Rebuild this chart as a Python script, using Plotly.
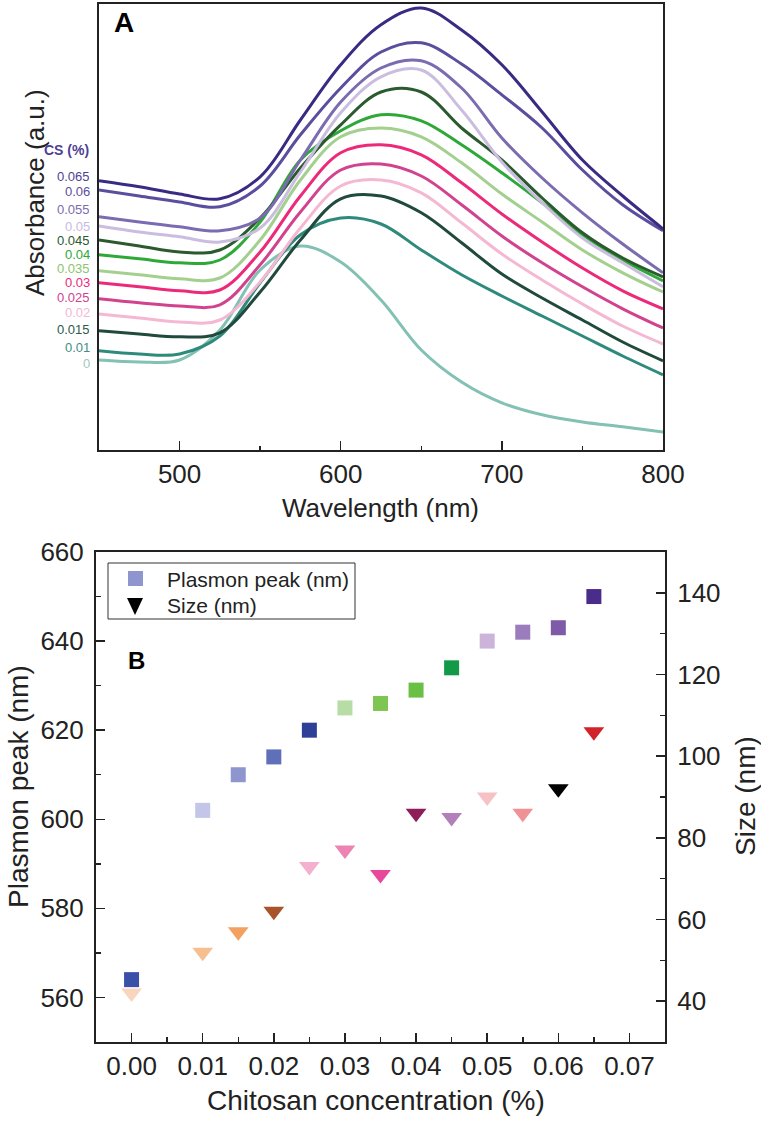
import plotly.graph_objects as go

# ---------------- Panel A data: UV-vis spectra ----------------
wavelength = [450, 475, 500, 525, 550, 575, 600, 625, 650, 675, 700, 725, 750, 775, 800]

cs_levels = ["0.065", "0.06", "0.055", "0.05", "0.045", "0.04", "0.035",
             "0.03", "0.025", "0.02", "0.015", "0.01", "0"]

abs_0065 = [0.673, 0.658, 0.640, 0.628, 0.683, 0.825, 0.963, 1.063, 1.105, 1.050, 0.963, 0.845, 0.725, 0.635, 0.553]
abs_0060 = [0.650, 0.635, 0.620, 0.608, 0.660, 0.788, 0.905, 0.995, 1.018, 0.965, 0.888, 0.805, 0.700, 0.613, 0.548]
abs_0055 = [0.583, 0.570, 0.558, 0.548, 0.580, 0.725, 0.870, 0.955, 0.973, 0.905, 0.780, 0.680, 0.593, 0.515, 0.443]
abs_0050 = [0.560, 0.545, 0.533, 0.520, 0.555, 0.695, 0.843, 0.933, 0.950, 0.850, 0.720, 0.618, 0.530, 0.468, 0.408]
abs_0045 = [0.525, 0.510, 0.495, 0.500, 0.580, 0.705, 0.813, 0.895, 0.895, 0.805, 0.725, 0.630, 0.543, 0.480, 0.433]
abs_0040 = [0.488, 0.478, 0.468, 0.475, 0.570, 0.725, 0.798, 0.838, 0.823, 0.763, 0.693, 0.618, 0.538, 0.475, 0.423]
abs_0035 = [0.448, 0.438, 0.428, 0.430, 0.525, 0.675, 0.783, 0.805, 0.783, 0.718, 0.640, 0.570, 0.500, 0.443, 0.395]
abs_0030 = [0.418, 0.408, 0.398, 0.400, 0.495, 0.635, 0.743, 0.763, 0.738, 0.668, 0.590, 0.520, 0.455, 0.398, 0.353]
abs_0025 = [0.378, 0.368, 0.360, 0.363, 0.463, 0.595, 0.700, 0.715, 0.685, 0.613, 0.535, 0.468, 0.408, 0.353, 0.305]
abs_0020 = [0.340, 0.330, 0.320, 0.325, 0.420, 0.555, 0.660, 0.675, 0.643, 0.568, 0.490, 0.425, 0.365, 0.310, 0.265]
abs_0015 = [0.298, 0.290, 0.283, 0.293, 0.395, 0.525, 0.628, 0.635, 0.593, 0.518, 0.440, 0.380, 0.325, 0.270, 0.223]
abs_0010 = [0.248, 0.240, 0.240, 0.285, 0.418, 0.538, 0.580, 0.565, 0.500, 0.438, 0.385, 0.335, 0.285, 0.235, 0.188]
abs_0000 = [0.225, 0.220, 0.225, 0.300, 0.450, 0.510, 0.470, 0.375, 0.250, 0.170, 0.118, 0.088, 0.070, 0.058, 0.045]

spectra = [abs_0065, abs_0060, abs_0055, abs_0050, abs_0045, abs_0040, abs_0035,
           abs_0030, abs_0025, abs_0020, abs_0015, abs_0010, abs_0000]

# ---------------- Panel B data ----------------
chitosan_conc = [0, 0.01, 0.015, 0.02, 0.025, 0.03, 0.035, 0.04, 0.045, 0.05, 0.055, 0.06, 0.065]
plasmon_peak = [564, 602, 610, 614, 620, 625, 626, 629, 634, 640, 642, 643, 650]
size_nm = [42, 52, 57, 62, 73, 77, 71, 86, 85, 90, 86, 92, 106]

legend_labels = ["Plasmon peak (nm)", "Size (nm)"]

# ---------------- styles ----------------
curve_colors = ["#3b2a84", "#5a4e9e", "#7b6bb0", "#cbbde0", "#2a5a2e", "#2ea836", "#a3d08e",
                "#ec2a79", "#d1428f", "#f5b8d3", "#204a3c", "#2e8a7c", "#82c1b3"]
label_colors = ["#4e3f95", "#5a4e9e", "#7b6bb0", "#c9bbdf", "#2a5a2e", "#2ea836", "#8cc46e",
                "#ec2a79", "#d1428f", "#f5b8d3", "#2c5a4a", "#3f8f84", "#9cc9c0"]
label_ypx = [176, 192, 210, 226, 240, 254, 268, 282, 298, 313, 329, 348, 363]

square_colors = ["#3a4fa8", "#c3c6e8", "#8f95cf", "#5f6fb8", "#2d3f96", "#b7dca6", "#7ec552",
                 "#6abf45", "#129a48", "#cbb3d9", "#9b7cbc", "#7e5aa7", "#4a2d8a"]
tri_colors = ["#f8d5bf", "#f6bf90", "#f3a060", "#a8532a", "#f4b0cf", "#ec83b3", "#e8479b",
              "#8f1d5a", "#b27fba", "#f6c2c6", "#f09195", "#000000", "#d2232a"]

W, H = 761, 1121
FONT = "Liberation Sans, Arial, sans-serif"
AX = "#222222"


def px(x):
    return x / W


def py(y):
    return 1 - y / H


fig = go.Figure()

# Panel A curves (draw lowest first)
for name, vals, col in reversed(list(zip(cs_levels, spectra, curve_colors))):
    fig.add_trace(go.Scatter(x=wavelength, y=vals, mode="lines", name=name,
                             line=dict(color=col, width=3, shape="spline", smoothing=1.0),
                             xaxis="x", yaxis="y", showlegend=False, hoverinfo="skip"))

# Panel B markers
fig.add_trace(go.Scatter(x=chitosan_conc, y=plasmon_peak, mode="markers", name=legend_labels[0],
                         marker=dict(symbol="square", size=15, color=square_colors, line=dict(width=0)),
                         xaxis="x2", yaxis="y3", showlegend=False))
fig.add_trace(go.Scatter(x=chitosan_conc, y=size_nm, mode="markers", name=legend_labels[1],
                         marker=dict(symbol="triangle-down", size=18, color=tri_colors, line=dict(width=0)),
                         xaxis="x2", yaxis="y4", showlegend=False))

tickfont_a = dict(family=FONT, size=26, color=AX)
tickfont_b = dict(family=FONT, size=26, color=AX)

fig.update_layout(
    template="none",
    width=W, height=H,
    showlegend=False,
    margin=dict(l=0, r=0, t=0, b=0, pad=0, autoexpand=False),
    paper_bgcolor="white", plot_bgcolor="white",
    font=dict(family=FONT, color=AX),
    xaxis=dict(domain=[px(99), px(663)], anchor="y", range=[450, 800], automargin=False,
               tickvals=[500, 600, 700, 800], ticks="inside", ticklen=9, tickwidth=1.5,
               tickcolor=AX, minor=dict(tickvals=[550, 650, 750], ticks="inside", ticklen=4,
                                        tickwidth=1.5, tickcolor=AX),
               showline=True, linecolor=AX, linewidth=2, mirror=True,
               showgrid=False, zeroline=False, tickfont=tickfont_a, ticklabelstandoff=0),
    yaxis=dict(domain=[py(450), py(4)], anchor="x", range=[0, 1.115], automargin=False,
               showticklabels=False, ticks="", showline=True, linecolor=AX, linewidth=2,
               mirror=True, showgrid=False, zeroline=False),
    xaxis2=dict(domain=[px(96), px(665)], anchor="y3", range=[-0.005, 0.075], automargin=False,
                tickvals=[0, 0.01, 0.02, 0.03, 0.04, 0.05, 0.06, 0.07], tickformat=".2f",
                ticks="inside", ticklen=9, tickwidth=1.5, tickcolor=AX,
                minor=dict(tickvals=[0.005, 0.015, 0.025, 0.035, 0.045, 0.055, 0.065],
                           ticks="inside", ticklen=5, tickwidth=1.5, tickcolor=AX),
                showline=True, linecolor=AX, linewidth=2, mirror=True,
                showgrid=False, zeroline=False, tickfont=tickfont_b, ticklabelstandoff=0),
    yaxis3=dict(domain=[py(1042), py(552)], anchor="x2", range=[550, 660], automargin=False,
                tickvals=[560, 580, 600, 620, 640, 660], ticks="inside", ticklen=9, tickwidth=1.5,
                tickcolor=AX, minor=dict(tickvals=[570, 590, 610, 630, 650], ticks="inside",
                                         ticklen=5, tickwidth=1.5, tickcolor=AX),
                showline=True, linecolor=AX, linewidth=2, mirror=False,
                showgrid=False, zeroline=False, tickfont=tickfont_b, ticklabelstandoff=5),
    yaxis4=dict(domain=[py(1042), py(552)], anchor="x2", overlaying="y3", side="right",
                range=[30, 150], tickvals=[40, 60, 80, 100, 120, 140], ticks="inside",
                automargin=False, ticklen=9, tickwidth=1.5, tickcolor=AX,
                minor=dict(tickvals=[50, 70, 90, 110, 130], ticks="inside", ticklen=5,
                           tickwidth=1.5, tickcolor=AX),
                showline=True, linecolor=AX, linewidth=2,
                showgrid=False, zeroline=False, tickfont=tickfont_b, ticklabelstandoff=5),
)

# Panel B legend box (drawn by hand to match the reference spacing)
shapes = [
    dict(type="rect", xref="paper", yref="paper", x0=px(108), x1=px(355), y0=py(619), y1=py(563),
         line=dict(color="#333333", width=1), fillcolor="white", layer="above"),
    dict(type="rect", xref="paper", yref="paper", x0=px(128), x1=px(143), y0=py(586), y1=py(571),
         line=dict(width=0), fillcolor="#8f95cf", layer="above"),
    dict(type="path", xref="paper", yref="paper",
         path="M {} {} L {} {} L {} {} Z".format(px(127), py(598), px(143), py(598), px(135), py(615)),
         line=dict(width=0), fillcolor="#000000", layer="above"),
]
fig.update_layout(shapes=shapes)

ann = []
# axis titles
ann.append(dict(text="Absorbance (a.u.)", x=px(35), y=py(193), xref="paper", yref="paper",
                showarrow=False, textangle=-90, font=dict(family=FONT, size=26, color=AX),
                xanchor="center", yanchor="middle"))
ann.append(dict(text="Wavelength (nm)", x=px(380), y=py(508), xref="paper", yref="paper",
                showarrow=False, font=dict(family=FONT, size=26, color=AX),
                xanchor="center", yanchor="middle"))
ann.append(dict(text="Plasmon peak (nm)", x=px(18), y=py(787), xref="paper", yref="paper",
                showarrow=False, textangle=-90, font=dict(family=FONT, size=28, color=AX),
                xanchor="center", yanchor="middle"))
ann.append(dict(text="Size (nm)", x=px(745), y=py(796), xref="paper", yref="paper",
                showarrow=False, textangle=-90, font=dict(family=FONT, size=28, color=AX),
                xanchor="center", yanchor="middle"))
ann.append(dict(text="Chitosan concentration (%)", x=px(376), y=py(1100), xref="paper", yref="paper",
                showarrow=False, font=dict(family=FONT, size=28, color=AX),
                xanchor="center", yanchor="middle"))
# legend texts
for lab, ypx in zip(legend_labels, [579, 605]):
    ann.append(dict(text=lab, x=px(165), y=py(ypx), xref="paper", yref="paper",
                    showarrow=False, font=dict(family=FONT, size=21, color=AX),
                    xanchor="left", yanchor="middle"))
# panel letters
ann.append(dict(text="<b>A</b>", x=px(112), y=py(23), xref="paper", yref="paper",
                showarrow=False, font=dict(family=FONT, size=28, color="#000000"),
                xanchor="left", yanchor="middle"))
ann.append(dict(text="<b>B</b>", x=px(126), y=py(660), xref="paper", yref="paper",
                showarrow=False, font=dict(family=FONT, size=24, color="#000000"),
                xanchor="left", yanchor="middle"))
# CS legend labels for panel A
ann.append(dict(text="<b>CS (%)</b>", x=px(91), y=py(150), xref="paper", yref="paper",
                showarrow=False, font=dict(family=FONT, size=14, color="#4e3f95"),
                xanchor="right", yanchor="middle"))
for name, col, ypx in zip(cs_levels, label_colors, label_ypx):
    ann.append(dict(text=name, x=px(91), y=py(ypx), xref="paper", yref="paper",
                    showarrow=False, font=dict(family=FONT, size=13, color=col),
                    xanchor="right", yanchor="middle", height=11, valign="middle",
                    borderpad=0))

fig.update_layout(annotations=ann)

# remove the default 8px page margin so the figure sits on the frame's origin
fig.write_html("out.html",
               config={"displayModeBar": False, "staticPlot": True},
               post_script="document.body.style.margin='0px';document.body.style.overflow='hidden';")
